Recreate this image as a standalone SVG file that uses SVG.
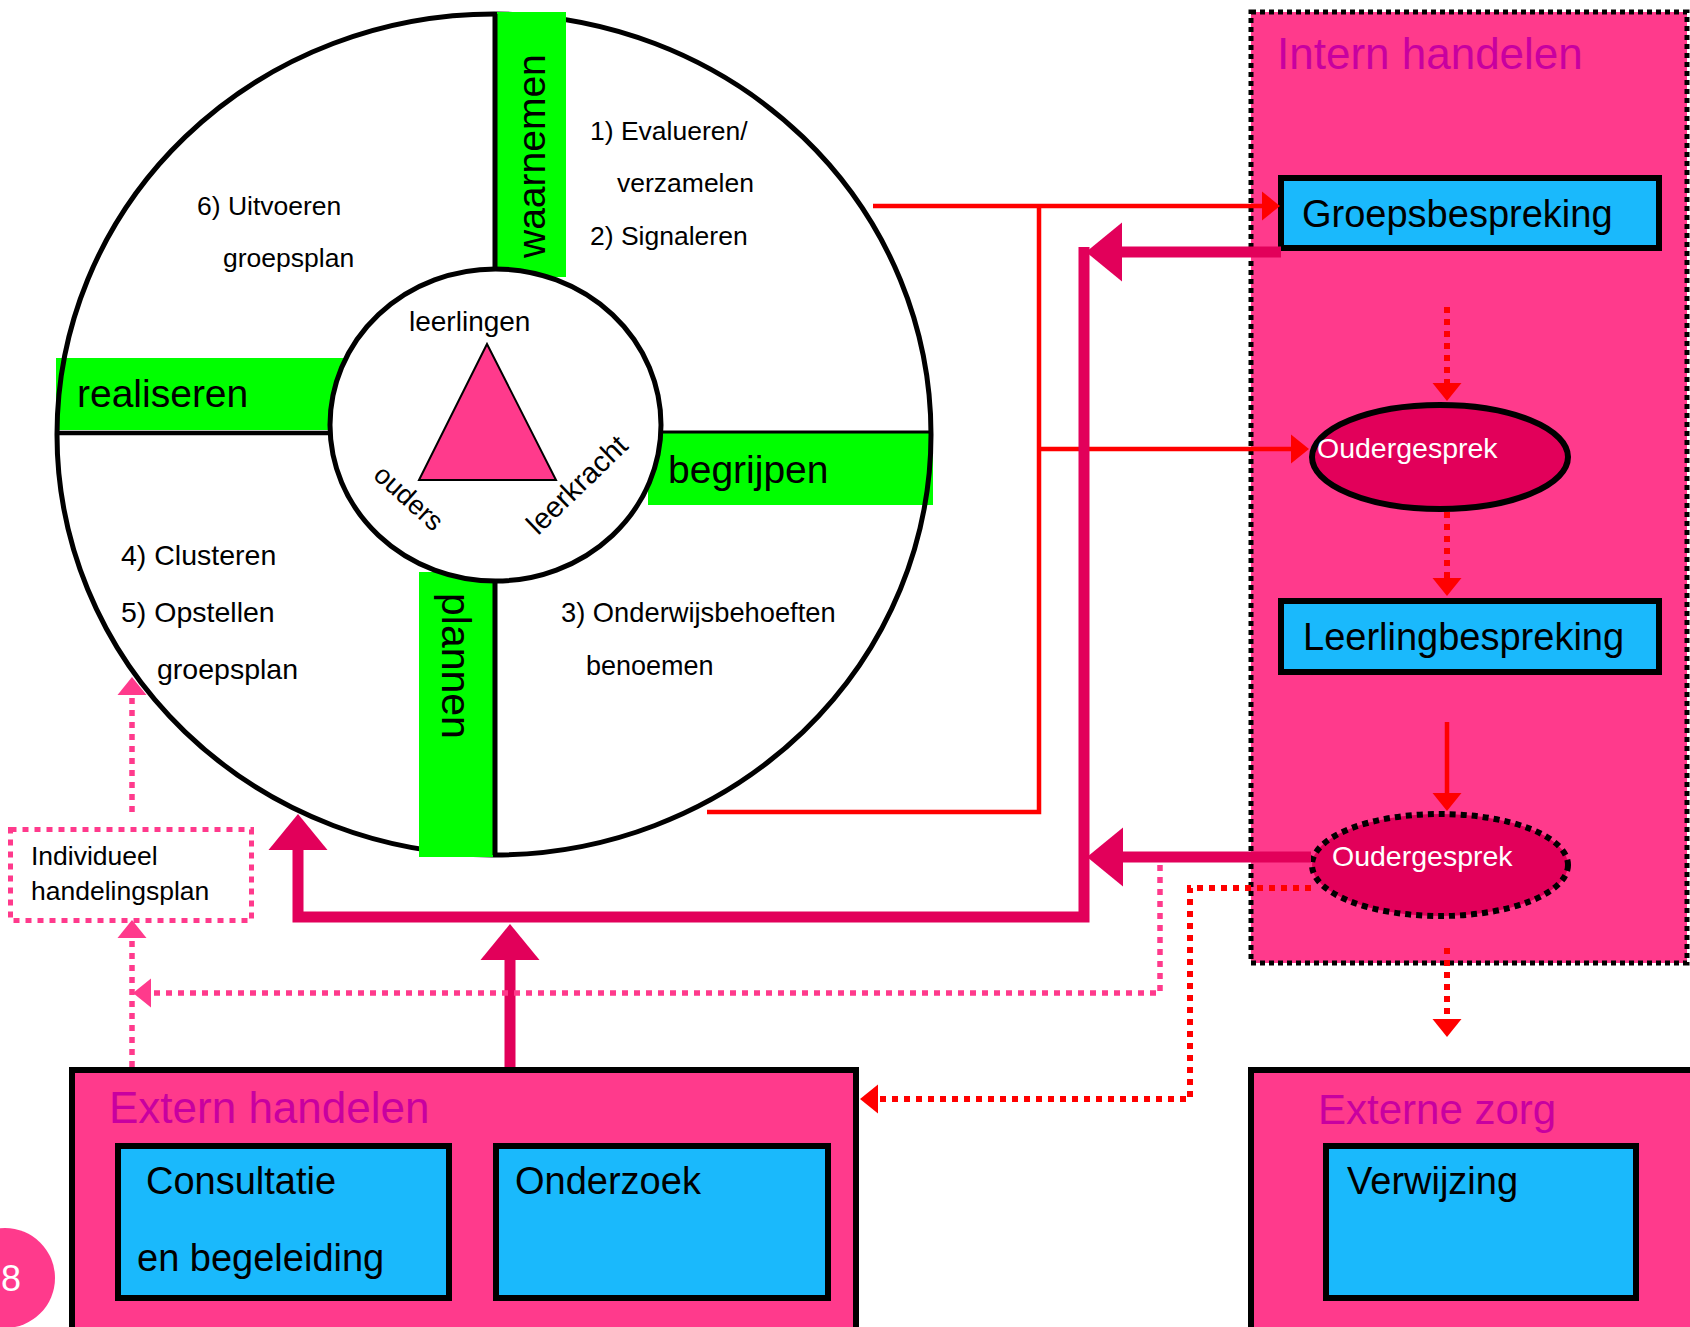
<svg xmlns="http://www.w3.org/2000/svg" width="1690" height="1327" viewBox="0 0 1690 1327">
<style>
text{font-family:"Liberation Sans",Arial,sans-serif;fill:#000}
.step{font-size:26.5px}
.stepb{font-size:28.5px}
.phase{font-size:39px}
.tri{font-size:27px}
.title{font-size:44px;fill:#C800A0}
.boxt{font-size:38px}
.oval{font-size:28.5px;fill:#fff}
.small{font-size:26.5px}
.blue{fill:#1AB9FC;stroke:#000;stroke-width:6}
.pinkbox{fill:#FF3A8C;stroke:#000;stroke-width:6}
.green{fill:#00FF00}
.red{fill:none;stroke:#FF0000;stroke-width:4.5}
.reddot{fill:none;stroke:#FF0000;stroke-width:6;stroke-dasharray:6 6}
.thick{fill:none;stroke:#E2005A;stroke-width:11}
.pdot{fill:none;stroke:#FF3A8C;stroke-width:5.5;stroke-dasharray:6 6}
</style>
<defs>
<marker id="ahRed" markerUnits="userSpaceOnUse" markerWidth="20" markerHeight="30" refX="1" refY="14.5" orient="auto" overflow="visible"><path d="M0,0 L18,14.5 L0,29 Z" fill="#FF0000"/></marker>
<marker id="ahThick" markerUnits="userSpaceOnUse" markerWidth="38" markerHeight="60" refX="1" refY="29.5" orient="auto" overflow="visible"><path d="M0,0 L36,29.5 L0,59 Z" fill="#E2005A"/></marker>
<marker id="ahPink" markerUnits="userSpaceOnUse" markerWidth="20" markerHeight="30" refX="1" refY="14.5" orient="auto" overflow="visible"><path d="M0,0 L18,14.5 L0,29 Z" fill="#FF3A8C"/></marker>
</defs>
<rect width="1690" height="1327" fill="#fff"/>

<g id="wheel">
<ellipse cx="494" cy="434.5" rx="437" ry="420.5" fill="#fff"/>
<rect class="green" x="56" y="358" width="300" height="72"/>
<rect class="green" x="648" y="433" width="285" height="72"/>
<ellipse cx="494" cy="434.5" rx="437" ry="420.5" fill="none" stroke="#000" stroke-width="5"/>
<rect class="green" x="497" y="12" width="69" height="265"/>
<rect class="green" x="419" y="572" width="74" height="285"/>
<line x1="495" y1="14" x2="495" y2="270" stroke="#000" stroke-width="5"/>
<line x1="57" y1="433" x2="332" y2="433" stroke="#000" stroke-width="4.5"/>
<line x1="659" y1="432" x2="931" y2="432" stroke="#000" stroke-width="3"/>
<line x1="495" y1="580" x2="495" y2="855" stroke="#000" stroke-width="5"/>
<ellipse cx="495.5" cy="425" rx="165.5" ry="156" fill="#fff" stroke="#000" stroke-width="5"/>
<polygon points="487,344 419,480 556,480" fill="#FF3A8C" stroke="#000" stroke-width="2"/>
<text class="tri" x="409" y="331" style="font-size:28px">leerlingen</text>
<text class="tri" x="372" y="477" transform="rotate(42 372 477)">ouders</text>
<text class="tri" x="538" y="536" transform="rotate(-44 538 536)" style="font-size:29px">leerkracht</text>
<text class="phase" x="545" y="258" transform="rotate(-90 545 258)">waarnemen</text>
<text class="phase" x="77" y="407">realiseren</text>
<text class="phase" x="668" y="483">begrijpen</text>
<text class="phase" x="442" y="593" transform="rotate(90 442 593)" style="font-size:41px">plannen</text>
<text class="step" x="590" y="140">1) Evalueren/</text>
<text class="step" x="617" y="192">verzamelen</text>
<text class="step" x="590" y="245">2) Signaleren</text>
<text class="step" x="197" y="215">6) Uitvoeren</text>
<text class="step" x="223" y="267">groepsplan</text>
<text class="stepb" x="121" y="565">4) Clusteren</text>
<text class="stepb" x="121" y="622">5) Opstellen</text>
<text class="stepb" x="157" y="679">groepsplan</text>
<text class="step" x="561" y="622" style="font-size:27.3px">3) Onderwijsbehoeften</text>
<text class="step" x="586" y="675" style="font-size:27px">benoemen</text>
</g>

<g id="intern-handelen">
<rect x="1251" y="12" width="436" height="951" fill="#FF3A8C" stroke="#000" stroke-width="5" stroke-dasharray="5 4"/>
<text class="title" x="1277" y="69">Intern handelen</text>
</g>
<g id="groepsbespreking">
<rect class="blue" x="1281" y="178" width="378" height="70"/>
<text class="boxt" x="1302" y="227">Groepsbespreking</text>
</g>
<g id="oudergesprek-1">
<ellipse cx="1440" cy="457" rx="128" ry="52" fill="#E2005A" stroke="#000" stroke-width="6"/>
<text class="oval" x="1317" y="458">Oudergesprek</text>
</g>
<g id="leerlingbespreking">
<rect class="blue" x="1281" y="601" width="378" height="71"/>
<text class="boxt" x="1303" y="650">Leerlingbespreking</text>
</g>
<g id="oudergesprek-2">
<ellipse cx="1440" cy="865" rx="128" ry="51" fill="#E2005A" stroke="#000" stroke-width="6" stroke-dasharray="6 5"/>
<text class="oval" x="1332" y="866">Oudergesprek</text>
</g>

<g id="individueel-handelingsplan">
<rect x="10.5" y="829.5" width="241" height="91" fill="#fff" stroke="#FF3A8C" stroke-width="5" stroke-dasharray="6 6"/>
<text class="small" x="31" y="865">Individueel</text>
<text class="small" x="31" y="900">handelingsplan</text>
</g>

<g id="extern-handelen">
<rect class="pinkbox" x="72" y="1070" width="784" height="270"/>
<text class="title" x="109" y="1123">Extern handelen</text>
</g>
<g id="consultatie">
<rect class="blue" x="118" y="1146" width="331" height="152"/>
<text class="boxt" x="146" y="1194">Consultatie</text>
<text class="boxt" x="137" y="1271">en begeleiding</text>
</g>
<g id="onderzoek">
<rect class="blue" x="496" y="1146" width="332" height="152"/>
<text class="boxt" x="515" y="1194">Onderzoek</text>
</g>

<g id="externe-zorg">
<rect class="pinkbox" x="1251" y="1070" width="445" height="270"/>
<text class="title" x="1318" y="1124" style="font-size:42px">Externe zorg</text>
</g>
<g id="verwijzing">
<rect class="blue" x="1326" y="1146" width="310" height="152"/>
<text class="boxt" x="1347" y="1194">Verwijzing</text>
</g>

<g id="page-number">
<circle cx="5" cy="1278" r="50" fill="#FF3A8C"/>
<text x="1" y="1291" style="font-size:36px;fill:#fff">8</text>
</g>

<g id="connectors">
<path class="red" d="M873,206 H1263" marker-end="url(#ahRed)"/>
<path class="red" d="M1039,206 V812 H707"/>
<path class="red" d="M1039,449 H1292" marker-end="url(#ahRed)"/>
<path class="red" d="M1447,722 V794" stroke-width="5" marker-end="url(#ahRed)"/>
<path class="reddot" d="M1447,307 V384" marker-end="url(#ahRed)"/>
<path class="reddot" d="M1447,512 V579" marker-end="url(#ahRed)"/>
<path class="reddot" d="M1447,948 V1020" marker-end="url(#ahRed)"/>
<path class="reddot" d="M1311,888 H1190 V1099 H877" marker-end="url(#ahRed)"/>
<path class="thick" d="M1281,252 H1121" marker-end="url(#ahThick)"/>
<path class="thick" d="M1084,247 V917 H298 V849" marker-end="url(#ahThick)"/>
<path class="thick" d="M1311,857 H1122" marker-end="url(#ahThick)"/>
<path class="thick" d="M510,1067 V959" marker-end="url(#ahThick)"/>
<path class="pdot" d="M1160,865 V993 H150" marker-end="url(#ahPink)"/>
<path class="pdot" d="M132,1067 V937" marker-end="url(#ahPink)"/>
<path class="pdot" d="M132,812 V694" marker-end="url(#ahPink)"/>
</g>
</svg>
